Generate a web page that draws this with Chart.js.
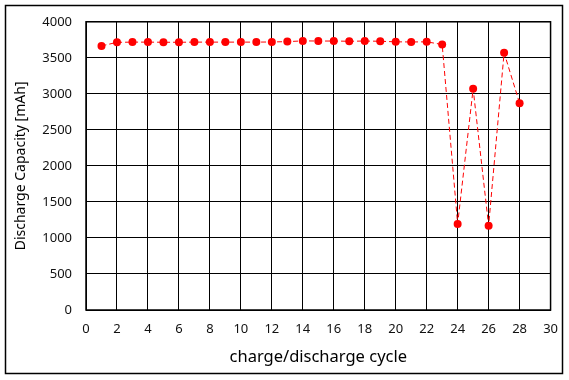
<!DOCTYPE html>
<html>
<head>
<meta charset="utf-8">
<script src="https://cdn.jsdelivr.net/npm/chart.js@4"></script>
<style>
html,body{margin:0;padding:0;background:#fff;}
#wrap{width:569px;height:380px;position:relative;}
</style>
</head>
<body>
<div id="wrap"><canvas id="c" width="569" height="380"></canvas></div>
<script>
const cycles = [1,2,3,4,5,6,7,8,9,10,11,12,13,14,15,16,17,18,19,20,21,22,23,24,25,26,27,28];
const capacity = [3665,3715,3718,3718,3716,3716,3718,3718,3718,3718,3718,3720,3725,3735,3733,3733,3730,3733,3730,3722,3720,3722,3685,1195,3070,1170,3570,2870];
const xTicks = [0,2,4,6,8,10,12,14,16,18,20,22,24,26,28,30];
const yTicks = [0,500,1000,1500,2000,2500,3000,3500,4000];
const xTitle = 'charge/discharge cycle';
const yTitle = 'Discharge Capacity [mAh]';

const points = cycles.map((c, i) => ({x: c, y: capacity[i]}));

const frame = {
  id: 'frame',
  afterDraw(chart) {
    const ctx = chart.ctx;
    ctx.save();
    ctx.strokeStyle = '#000';
    ctx.lineWidth = 1.5;
    ctx.strokeRect(5.5, 5.5, 557, 368);
    const a = chart.chartArea;
    ctx.lineWidth = 1.5;
    ctx.strokeRect(a.left, a.top, a.right - a.left, a.bottom - a.top);
    ctx.restore();
  }
};

new Chart(document.getElementById('c'), {
  type: 'line',
  data: {
    datasets: [{
      data: points,
      borderColor: '#ff0000',
      backgroundColor: '#ff0000',
      borderWidth: 1,
      borderDash: [5, 3],
      pointRadius: 4,
      pointBorderWidth: 0,
      pointBackgroundColor: '#ff0000',
      tension: 0,
      fill: false
    }]
  },
  options: {
    responsive: false,
    animation: false,
    layout: {padding: {left: 0, right: 15, top: 16, bottom: 0}},
    plugins: {legend: {display: false}, tooltip: {enabled: false}},
    scales: {
      x: {
        type: 'linear',
        min: 0, max: 30,
        afterBuildTicks(s) { s.ticks = xTicks.map(v => ({value: v})); },
        afterFit(s) { s.height = 70; },
        grid: {color: '#000', lineWidth: 1, drawTicks: false},
        border: {color: '#000', width: 1},
        ticks: {padding: 11, color: '#111', font: {family: 'Noto Sans', size: 13}, maxRotation: 0, autoSkip: false,
                callback: v => String(v)},
        title: {display: true, text: xTitle, color: '#000', font: {family: 'Noto Sans', size: 16.5}, padding: {top: 0, bottom: 13}}
      },
      y: {
        min: 0, max: 4000,
        afterBuildTicks(s) { s.ticks = yTicks.map(v => ({value: v})); },
        afterFit(s) { s.width = 86; },
        grid: {color: '#000', lineWidth: 1, drawTicks: false},
        border: {color: '#000', width: 1},
        ticks: {padding: 14, color: '#111', font: {family: 'Noto Sans', size: 13}, autoSkip: false,
                callback: v => String(v)},
        title: {display: true, text: yTitle, color: '#000', font: {family: 'Noto Sans', size: 14}, padding: {top: 13, bottom: 0}}
      }
    }
  },
  plugins: [frame]
});
</script>
</body>
</html>
